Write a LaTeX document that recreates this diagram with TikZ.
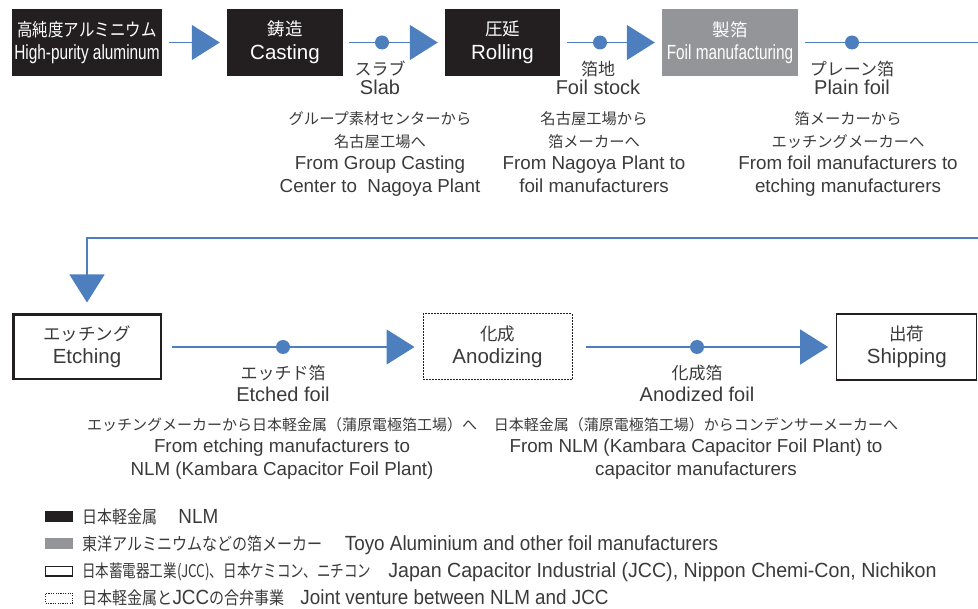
\documentclass[tikz,border=0pt]{standalone}
\usepackage{fontspec}
\setmainfont{Liberation Sans}
\newfontfamily\jp{Noto Sans CJK JP}
\newfontfamily\jpn[FakeStretch=0.86]{Noto Sans CJK JP}
\newfontfamily\latn[FakeStretch=0.75]{Liberation Sans}
\newfontfamily\latl[FakeStretch=0.92]{Liberation Sans}
\usetikzlibrary{arrows.meta}
\definecolor{nlm}{HTML}{231F20}
\definecolor{foilgray}{HTML}{939598}
\definecolor{flowblue}{HTML}{4D7FBF}
\definecolor{txt}{HTML}{3A3A3A}
\newcommand\fs[2]{\fontsize{#1}{#2}\selectfont}
\newcommand\legl[1]{{\latl\fs{20.5}{20}#1}}
\begin{document}
\begin{tikzpicture}[x=1pt,y=-1pt,
  stage/.style={rectangle, inner sep=0pt, minimum height=67pt, align=center, font=\fs{20.5}{23.5}},
  nlmbox/.style={stage, fill=nlm, text=white},
  foilbox/.style={stage, fill=foilgray, text=white},
  jccbox/.style={stage, draw=nlm, line width=1.3pt, text=txt},
  jvbox/.style={stage, draw=nlm, line width=1pt, dash pattern=on 1.6pt off 1.4pt, text=txt},
  line/.style={draw=flowblue, line width=1.3pt},
  conn/.style={line, -{Triangle[length=28pt 0 0, width=35pt 0 0]}},
  dot/.style={circle, fill=flowblue, minimum size=14pt, inner sep=0pt},
  jlab/.style={anchor=base, inner sep=0pt, text=txt, font=\jp\fs{17}{20}},
  llab/.style={anchor=base, inner sep=0pt, text=txt, font=\fs{20}{24}},
  jdesc/.style={anchor=base, inner sep=0pt, text=txt, font=\jp\fs{15.3}{20}},
  ldesc/.style={anchor=base, inner sep=0pt, text=txt, font=\fs{18.8}{22}},
  legsq/.style={rectangle, inner sep=0pt, minimum width=28pt, minimum height=11pt},
  legtext/.style={anchor=base west, inner sep=0pt, text=txt, font=\fs{17.5}{20}}
]
\useasboundingbox (0,0) rectangle (978,609);

% top row stages
\node[nlmbox, minimum width=150pt] (hp) at (87,42.5) {{\jpn\fs{18}{23.5}高純度アルミニウム}\\{\latn High-purity aluminum}};
\node[nlmbox, minimum width=116pt] (cast) at (285,42.5) {{\jp\fs{17.5}{23.5}鋳造}\\Casting};
\node[nlmbox, minimum width=115pt] (roll) at (502.5,42.5) {{\jp\fs{17.5}{23.5}圧延}\\Rolling};
\node[foilbox, minimum width=136pt] (foil) at (730,42.5) {{\jp\fs{17.5}{23.5}製箔}\\{\latn Foil manufacturing}};

% bottom row stages
\node[jccbox, line width=2.5pt, minimum width=147.5pt, minimum height=64.5pt] (etch) at (87,347) {{\jp\fs{17.5}{23.5}エッチング}\\Etching};
\node[jvbox, minimum width=149pt, minimum height=66pt] (anod) at (497.5,347) {{\jp\fs{17.5}{23.5}化成}\\Anodizing};
\node[jccbox, minimum width=140pt, minimum height=66pt] (ship) at (906.8,347) {{\jp\fs{17.5}{23.5}出荷}\\Shipping};

\coordinate (edgeA) at (978,42.5);
\coordinate (edgeB) at (978,238);

% connectors
\draw[conn, shorten <=7pt, shorten >=7pt] (hp) -- (cast);
\draw[conn, shorten <=6pt, shorten >=7pt] (cast) -- (roll);
\draw[conn, shorten <=7pt, shorten >=7pt] (roll) -- (foil);
\draw[line, shorten <=7pt] (foil) -- (edgeA);
\draw[conn, shorten >=11pt] (edgeB) -| (etch);
\draw[conn, shorten <=10pt, shorten >=8pt] (etch) -- (anod);
\draw[conn, shorten <=13.5pt, shorten >=8pt] (anod) -- (ship);

% dots
\node[dot] (d1) at (382,42.5) {};
\node[dot] (d2) at (600,42.5) {};
\node[dot] (d3) at (852,42.5) {};
\node[dot] (d4) at (283,347) {};
\node[dot] (d5) at (697,347) {};

% product labels
\node[jlab] (l1j) at (380,75.5) {スラブ};
\node[llab] (l1e) at (380,95) {Slab};
\node[jlab] (l2j) at (598,75.5) {箔地};
\node[llab] (l2e) at (598,95) {Foil stock};
\node[jlab] (l3j) at (852,75.5) {プレーン箔};
\node[llab] (l3e) at (852,95) {Plain foil};
\node[jlab] (l4j) at (283,379.5) {エッチド箔};
\node[llab] (l4e) at (283,402) {Etched foil};
\node[jlab] (l5j) at (697,379.5) {化成箔};
\node[llab] (l5e) at (697,402) {Anodized foil};

% descriptions, top row
\node[jdesc] (t1a) at (380,124.5) {グループ素材センターから};
\node[jdesc] (t1b) at (380,147.2) {名古屋工場へ};
\node[ldesc] (t1c) at (380,170) {From Group Casting};
\node[ldesc] (t1d) at (380,192.5) {Center to\ \ Nagoya Plant};
\node[jdesc] (t2a) at (594,124.5) {名古屋工場から};
\node[jdesc] (t2b) at (594,147.2) {箔メーカーへ};
\node[ldesc] (t2c) at (594,170) {From Nagoya Plant to};
\node[ldesc] (t2d) at (594,192.5) {foil manufacturers};
\node[jdesc] (t3a) at (848,124.5) {箔メーカーから};
\node[jdesc] (t3b) at (848,147.2) {エッチングメーカーへ};
\node[ldesc] (t3c) at (848,170) {From foil manufacturers to};
\node[ldesc] (t3d) at (848,192.5) {etching manufacturers};

% descriptions, bottom row
\node[jdesc, font=\jp\fs{15}{20}] (b1a) at (282,430.5) {エッチングメーカーから日本軽金属（蒲原電極箔工場）へ};
\node[ldesc] (b1b) at (282,453) {From etching manufacturers to};
\node[ldesc] (b1c) at (282,475.5) {NLM (Kambara Capacitor Foil Plant)};
\node[jdesc, font=\jp\fs{15}{20}] (b2a) at (696,430.5) {日本軽金属（蒲原電極箔工場）からコンデンサーメーカーへ};
\node[ldesc] (b2b) at (696,453) {From NLM (Kambara Capacitor Foil Plant) to};
\node[ldesc] (b2c) at (696,475.5) {capacitor manufacturers};

% legend
\node[legsq, fill=nlm] (k1) at (59,517) {};
\node[legsq, fill=foilgray] (k2) at (59,544) {};
\node[legsq, draw=nlm, line width=1.3pt, minimum width=26.7pt, minimum height=9.7pt] (k3) at (59,571) {};
\node[legsq, draw=nlm, line width=0.9pt, dash pattern=on 1.2pt off 1.2pt, minimum width=27pt, minimum height=10pt] (k4) at (59,598) {};
\node[legtext] (k1t) at (82,523.5) {{\jpn 日本軽金属}\hspace{21pt}\legl{NLM}};
\node[legtext] (k2t) at (82,550.5) {{\jpn 東洋アルミニウムなどの箔メーカー}\hspace{22pt}\legl{Toyo Aluminium and other foil manufacturers}};
\node[legtext] (k3t) at (82,577.5) {\scalebox{0.9}[1]{\jpn 日本蓄電器工業(JCC)、日本ケミコン、ニチコン}\hspace{17pt}\scalebox{1.04}[1]{\legl{Japan Capacitor Industrial (JCC), Nippon Chemi-Con, Nichikon}}};
\node[legtext] (k4t) at (82,604.5) {{\jpn 日本軽金属と}\legl{JCC}{\jpn の合弁事業}\hspace{16pt}\legl{Joint venture between NLM and JCC}};
\end{tikzpicture}
\end{document}
